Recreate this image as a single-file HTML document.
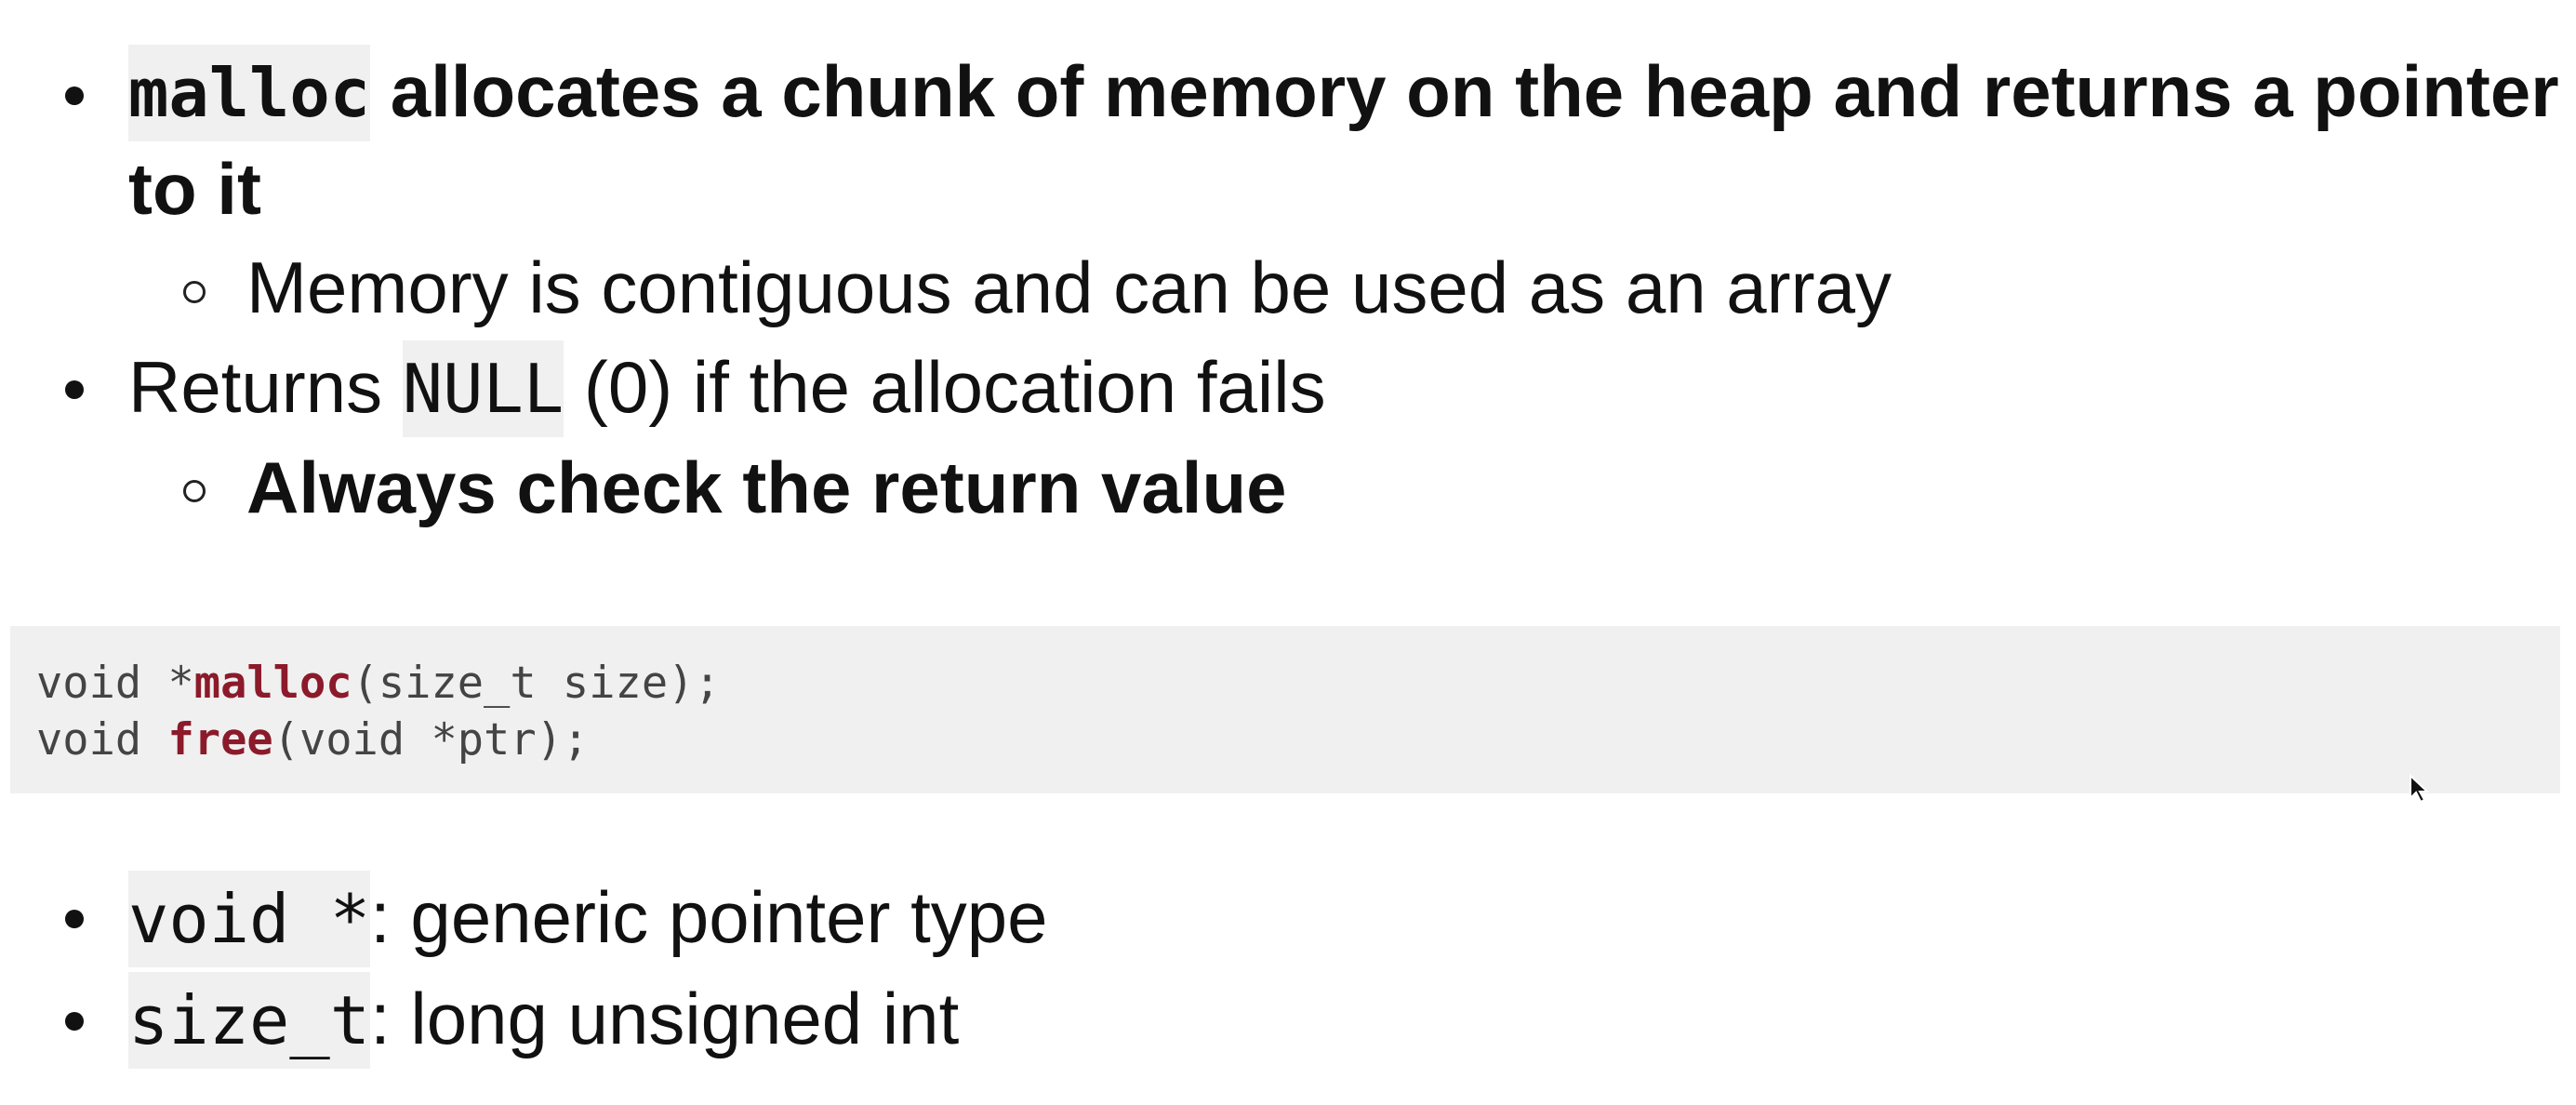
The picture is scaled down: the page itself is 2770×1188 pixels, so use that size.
<!DOCTYPE html>
<html><head><meta charset="utf-8"><style>
html,body{margin:0;padding:0;background:#fff;}
body{width:2770px;height:1188px;position:relative;overflow:hidden;font-family:"Liberation Sans",sans-serif;color:#111;}
.l{position:absolute;white-space:nowrap;font-size:78px;line-height:1;}
.b{font-weight:bold;}
.c{font-family:"DejaVu Sans Mono","Liberation Mono",monospace;background:#f0f0f0;font-weight:normal;font-size:72px;padding:10px 0;}
.dot{position:absolute;width:20px;height:20px;border-radius:50%;background:#111;}
.ring{position:absolute;width:18px;height:18px;border-radius:50%;border:3px solid #222;}
.code{position:absolute;left:11px;top:673px;width:2742px;height:180px;background:#f0f0f0;}
.cl{position:absolute;left:39px;font-family:"DejaVu Sans Mono","Liberation Mono",monospace;font-size:47px;color:#444;white-space:nowrap;line-height:1;}
.k{color:#8b1a2b;font-weight:bold;}
</style></head><body>
<div class="dot" style="left:70px;top:93px"></div>
<div class="l b" style="left:138px;top:59px">
<span class="c" style="font-weight:bold">malloc</span> allocates a chunk of memory on the heap and returns a pointer</div>
<div class="l b" style="left:138px;top:164px">to it</div>
<div class="ring" style="left:197px;top:302px"></div>
<div class="l" style="left:265px;top:270px">Memory is contiguous and can be used as an array</div>
<div class="dot" style="left:70px;top:409px"></div>
<div class="l" style="left:138px;top:377px">Returns <span class="c">NULL</span> (0) if the allocation fails</div>
<div class="ring" style="left:197px;top:516px"></div>
<div class="l b" style="left:265px;top:485px">Always check the return value</div>

<div class="code"></div>
<div class="cl" style="top:711px">void *<span class="k">malloc</span>(size_t size);</div>
<div class="cl" style="top:772px">void <span class="k">free</span>(void *ptr);</div>
<svg style="position:absolute;left:2590px;top:832px" width="22" height="32" viewBox="0 0 22 32"><path d="M2 2 L2 26 L8 20 L13 30 L17 28 L12 19 L20 19 Z" fill="#111" stroke="#fff" stroke-width="2"/></svg>

<div class="dot" style="left:70px;top:978px"></div>
<div class="l" style="left:138px;top:947px"><span class="c">void *</span>: generic pointer type</div>
<div class="dot" style="left:70px;top:1088px"></div>
<div class="l" style="left:138px;top:1056px"><span class="c">size_t</span>: long unsigned int</div>
</body></html>
